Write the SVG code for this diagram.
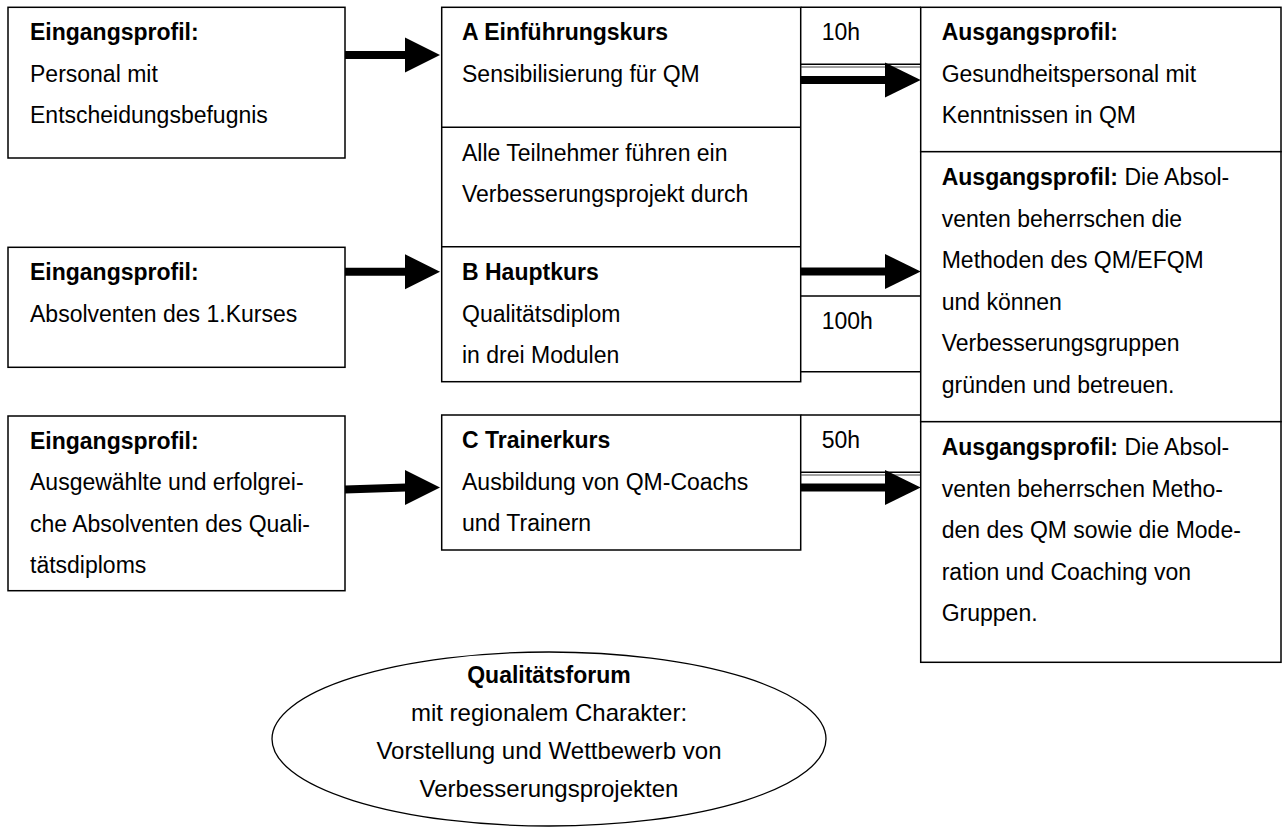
<svg xmlns="http://www.w3.org/2000/svg" width="1285" height="827" viewBox="0 0 1285 827">
<style>
.box{fill:#fff;stroke:#000;stroke-width:1.5}
.ln{stroke:#000;stroke-width:1.5;fill:none}
.ln2{stroke:#444;stroke-width:1;fill:none}
text{font-family:"Liberation Sans",Arial,sans-serif;font-size:23px;fill:#000}
.b{font-weight:bold}
.c{text-anchor:middle}
.e{font-size:24px}
.conn{stroke:#000;stroke-width:8;fill:none}
.head{fill:#000}
</style>
<rect width="1285" height="827" fill="#fff"/>
<g id="eingang1">
<rect class="box" x="8" y="7.3" width="337" height="150.7"/>
<text x="30" y="40" class="b">Eingangsprofil:</text>
<text x="30" y="81.5">Personal mit</text>
<text x="30" y="123">Entscheidungsbefugnis</text>
</g>
<g id="eingang2">
<rect class="box" x="8" y="247.3" width="337" height="120"/>
<text x="30" y="280" class="b">Eingangsprofil:</text>
<text x="30" y="321.5">Absolventen des 1.Kurses</text>
</g>
<g id="eingang3">
<rect class="box" x="8" y="416" width="337" height="174.7"/>
<text x="30" y="448.5" class="b">Eingangsprofil:</text>
<text x="30" y="490">Ausgewählte und erfolgrei-</text>
<text x="30" y="531.5">che Absolventen des Quali-</text>
<text x="30" y="573">tätsdiploms</text>
</g>
<g id="kurs-ab">
<rect class="box" x="441.7" y="7.3" width="359" height="374.4"/>
<line class="ln" x1="441.7" y1="127.3" x2="800.7" y2="127.3"/>
<line class="ln" x1="441.7" y1="246.7" x2="800.7" y2="246.7"/>
<text x="462" y="40" class="b">A Einführungskurs</text>
<text x="462" y="81.5">Sensibilisierung für QM</text>
<text x="462" y="160.5">Alle Teilnehmer führen ein</text>
<text x="462" y="202">Verbesserungsprojekt durch</text>
<text x="462" y="280" class="b">B Hauptkurs</text>
<text x="462" y="321.5">Qualitätsdiplom</text>
<text x="462" y="363">in drei Modulen</text>
</g>
<g id="kurs-c">
<rect class="box" x="441.7" y="415" width="359" height="135"/>
<text x="462" y="448" class="b">C Trainerkurs</text>
<text x="462" y="489.5">Ausbildung von QM-Coachs</text>
<text x="462" y="531">und Trainern</text>
</g>
<g id="stunden">
<line class="ln" x1="800.7" y1="7.3" x2="920.7" y2="7.3"/>
<line class="ln" x1="800.7" y1="64.3" x2="920.7" y2="64.3"/>
<line class="ln2" x1="800.7" y1="67" x2="920.7" y2="67"/>
<line class="ln" x1="800.7" y1="296" x2="920.7" y2="296"/>
<line class="ln" x1="800.7" y1="371.7" x2="920.7" y2="371.7"/>
<line class="ln" x1="800.7" y1="415" x2="920.7" y2="415"/>
<line class="ln" x1="800.7" y1="472.3" x2="920.7" y2="472.3"/>
<line class="ln2" x1="800.7" y1="475" x2="920.7" y2="475"/>
<text x="821.7" y="40">10h</text>
<text x="821.7" y="329">100h</text>
<text x="821.7" y="448">50h</text>
</g>
<g id="ausgang1">
<rect class="box" x="920.7" y="7.3" width="360.3" height="144.4"/>
<text x="941.7" y="40" class="b">Ausgangsprofil:</text>
<text x="941.7" y="81.5">Gesundheitspersonal mit</text>
<text x="941.7" y="123">Kenntnissen in QM</text>
</g>
<g id="ausgang2">
<rect class="box" x="920.7" y="151.7" width="360.3" height="270"/>
<text x="941.7" y="185"><tspan class="b">Ausgangsprofil:</tspan> Die Absol-</text>
<text x="941.7" y="226.5">venten beherrschen die</text>
<text x="941.7" y="268">Methoden des QM/EFQM</text>
<text x="941.7" y="309.5">und können</text>
<text x="941.7" y="351">Verbesserungsgruppen</text>
<text x="941.7" y="392.5">gründen und betreuen.</text>
</g>
<g id="ausgang3">
<rect class="box" x="920.7" y="421.7" width="360.3" height="240.6"/>
<text x="941.7" y="455"><tspan class="b">Ausgangsprofil:</tspan> Die Absol-</text>
<text x="941.7" y="496.5">venten beherrschen Metho-</text>
<text x="941.7" y="538">den des QM sowie die Mode-</text>
<text x="941.7" y="579.5">ration und Coaching von</text>
<text x="941.7" y="621">Gruppen.</text>
</g>
<g id="forum">
<ellipse cx="549" cy="739" rx="277" ry="87" fill="#fff" stroke="#000" stroke-width="1.3"/>
<text x="549" y="683" class="b c">Qualitätsforum</text>
<text x="549" y="721" class="c e">mit regionalem Charakter:</text>
<text x="549" y="759" class="c e">Vorstellung und Wettbewerb von</text>
<text x="549" y="797" class="c e">Verbesserungsprojekten</text>
</g>
<g id="connectors">
<line class="conn" x1="345" y1="55" x2="406" y2="55"/>
<polygon class="head" points="405,37.5 440,55 405,72.5"/>
<line class="conn" x1="345" y1="271.7" x2="406" y2="271.7"/>
<polygon class="head" points="405,254.2 440,271.7 405,289.2"/>
<line class="conn" x1="345" y1="489.5" x2="406" y2="487.5"/>
<polygon class="head" points="405,470 440,487.5 405,505"/>
<line class="conn" x1="800.7" y1="80" x2="886" y2="80"/>
<polygon class="head" points="885,62.5 920.7,80 885,97.5"/>
<line class="conn" x1="800.7" y1="271.5" x2="886" y2="271.5"/>
<polygon class="head" points="885,254 920.7,271.5 885,289"/>
<line class="conn" x1="800.7" y1="487.5" x2="886" y2="487.5"/>
<polygon class="head" points="885,470 920.7,487.5 885,505"/>
</g>
</svg>
